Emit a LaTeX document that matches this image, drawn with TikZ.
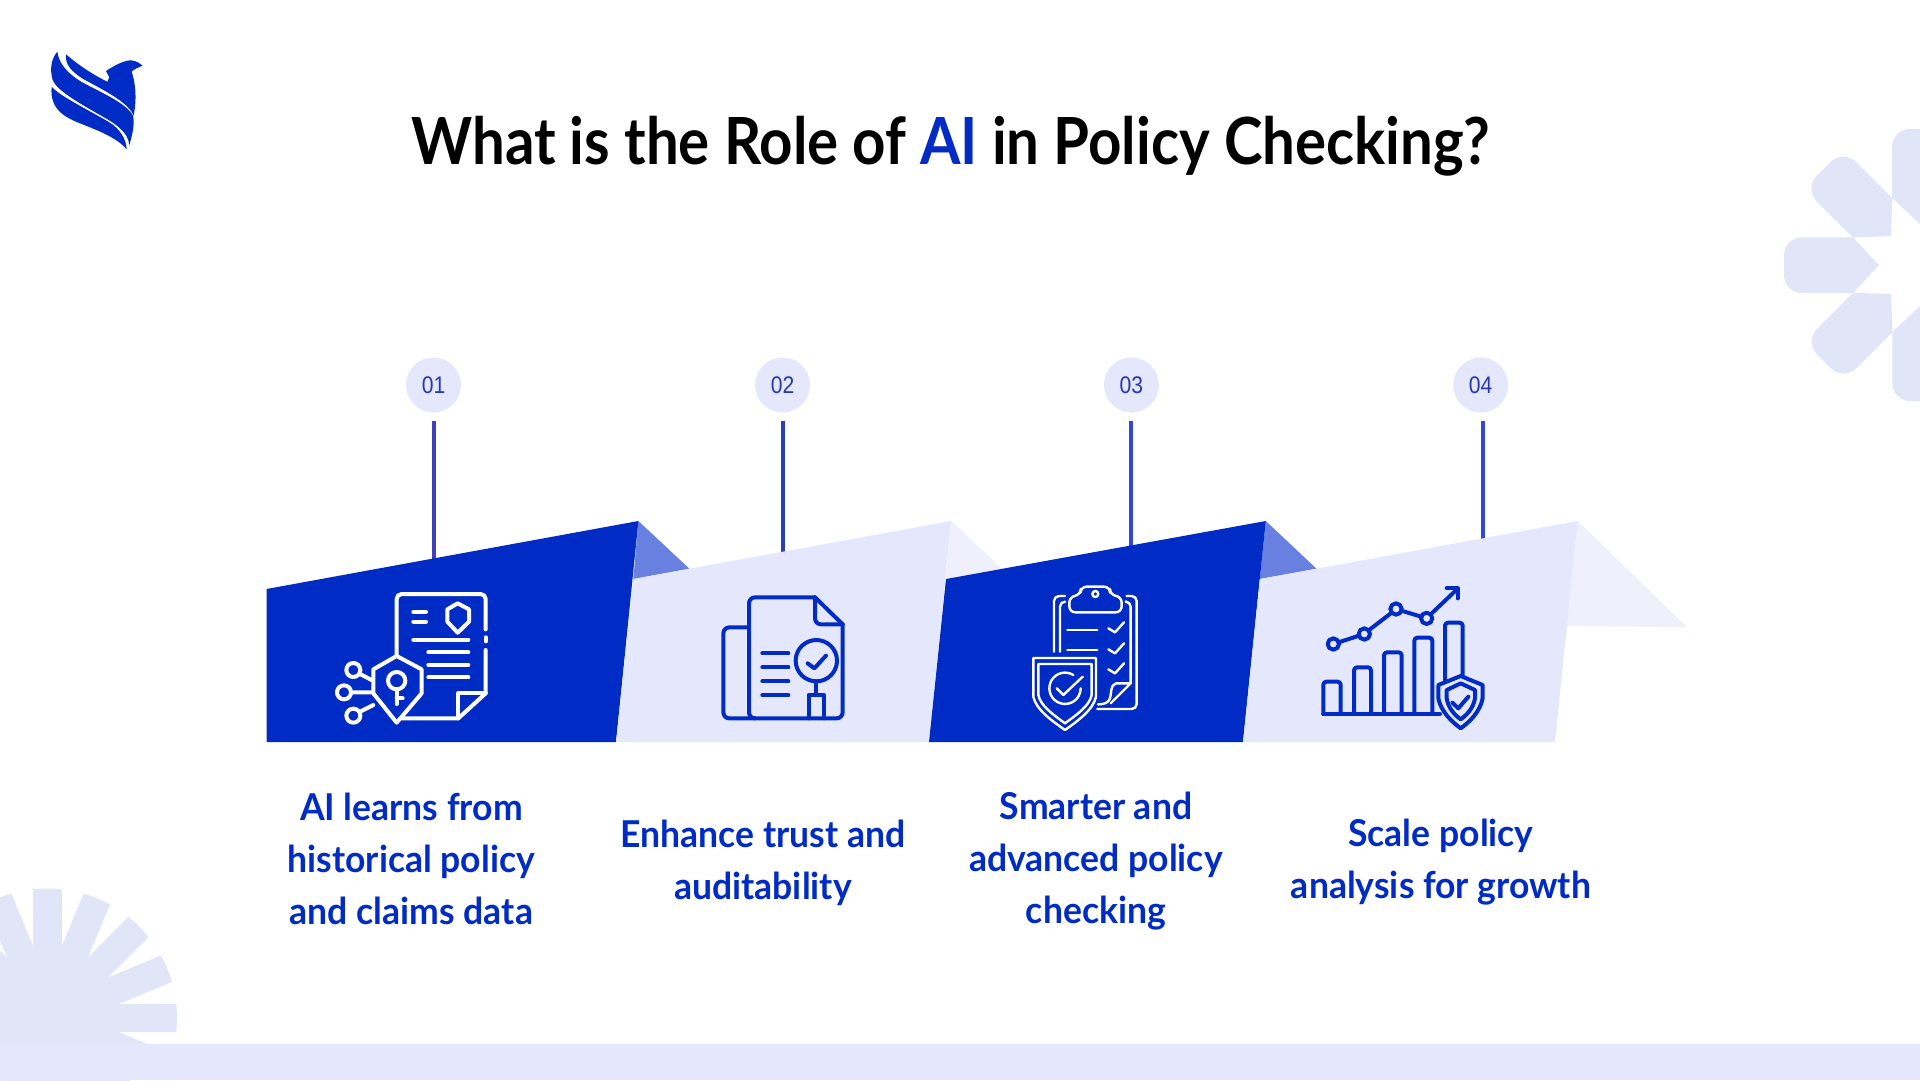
\documentclass[tikz,border=0pt]{standalone}
\usepackage{fontspec}
\setmainfont{Lato}
\newfontfamily\numfont[FakeStretch=0.88]{Liberation Sans}
\newfontfamily\headfont[FakeStretch=0.895]{Lato}
\newfontfamily\labelfont[FakeStretch=0.96]{Lato}
\definecolor{brandblue}{HTML}{002CC5}
\definecolor{lightpanel}{HTML}{E5E8FC}
\definecolor{foldblue}{HTML}{6880E0}
\definecolor{foldlight}{HTML}{EFF0FC}
\definecolor{deco}{HTML}{E1E5F8}
\definecolor{numblue}{HTML}{2538B5}
\definecolor{stemone}{HTML}{4040B8}
\definecolor{stemtwo}{HTML}{2A3FC0}
\definecolor{stemthree}{HTML}{2D48DA}
\tikzset{
  x=1pt,y=-1pt,
  numcircle/.style={circle,fill=lightpanel,minimum size=55pt,inner sep=0pt,outer sep=0pt,text=numblue,font=\numfont\fontsize{24}{28}\selectfont},
  stem/.style={line width=4pt},
  steplabel/.style={align=center,text=brandblue,font=\labelfont\bfseries\fontsize{37}{52}\selectfont},
  iconw/.style={draw=white,line width=4pt,line cap=round,line join=round,fill=none},
  iconb/.style={draw=brandblue,line width=4pt,line cap=round,line join=round,fill=none},
  iconthin/.style={draw=white,line width=2.4pt,line cap=round,line join=round,fill=none},
  petal/.style={fill=deco}
}
\begin{document}
\begin{tikzpicture}
\useasboundingbox (0,0) rectangle (1920,1080);
\clip (0,0) rectangle (1920,1080);
\fill[white] (0,0) rectangle (1920,1080);

% sunburst
\begin{scope}
  \clip (47.5,1018) circle[radius=129.5];
  \foreach \a in {0,22.5,...,337.5}
    \fill[deco,rotate around={\a:(47.5,1018)}] (47.5,1003.75) rectangle (190,1032.25);
\end{scope}
\fill[lightpanel] (0,1044) rectangle (1920,1080);

% flower
\foreach \a in {0,45,...,315}
  \fill[petal,rotate around={\a:(1920,265)}]
    (1879,265) -- (1853,237.3) [rounded corners=18pt] -- (1784,237.3) -- (1784,293) [sharp corners] -- (1853,293) -- cycle;

% logo
\begin{scope}[shift={(0,0)},scale=1/3]
  \fill[brandblue] (155,260) .. controls (175,285) and (250,322) .. (325,365) .. controls (360,385) and (380,420) .. (380,448)
     .. controls (350,412) and (290,390) .. (240,370) .. controls (175,345) and (150,315) .. (155,260) -- cycle;
  \fill[brandblue] (172,155) .. controls (178,195) and (205,220) .. (240,243) .. controls (290,272) and (385,310) .. (400,350)
     .. controls (404,380) and (395,410) .. (388,436) .. controls (385,395) and (345,370) .. (300,345)
     .. controls (230,305) and (170,270) .. (158,240) .. controls (148,205) and (155,175) .. (172,155) -- cycle;
  \fill[brandblue] (198,163) .. controls (235,195) and (280,225) .. (322,245) -- (328,232) -- (318,213)
     .. controls (345,195) and (375,180) .. (395,181) .. controls (410,183) and (420,190) .. (427,197)
     .. controls (415,203) and (402,207) .. (395,215) .. controls (405,245) and (412,290) .. (401,347)
     .. controls (385,305) and (300,265) .. (250,237) .. controls (215,215) and (195,195) .. (198,163) -- cycle;
\end{scope}

% title
\node[font=\headfont\bfseries\fontsize{65}{70}\selectfont,text=black,inner sep=0pt] (title) at (951,146)
  {What is the Role of \textcolor{brandblue}{AI} in Policy Checking?};

% number circles
\node[numcircle] (c1) at (433.5,385) {01};
\node[numcircle] (c2) at (782.6,385) {02};
\node[numcircle] (c3) at (1131.4,385) {03};
\node[numcircle] (c4) at (1480.7,385) {04};
\coordinate (e1) at (433.5,560);
\coordinate (e2) at (782.6,555);
\coordinate (e3) at (1131.4,548);
\coordinate (e4) at (1482.7,540);
\draw[stem,draw=stemone,shorten <=8pt] (c1.south) -- (e1);
\draw[stem,draw=stemtwo,shorten <=8pt] (c2.south) -- (e2);
\draw[stem,draw=stemthree,shorten <=8pt] (c3.south) -- (e3);
\draw[stem,draw=stemthree,shorten <=8pt] (c4.south -| e4) -- (e4);

% folds
\fill[foldblue] (638.4,521) -- (689.4,568.7) -- (633.4,579) -- cycle;
\fill[foldlight] (951,521) -- (1002,568.7) -- (946,579) -- cycle;
\fill[foldblue] (1265.8,521) -- (1316.5,568.7) -- (1259.8,579) -- cycle;
\fill[foldlight] (1577.7,521) -- (1687,627.3) -- (1566.8,626) -- cycle;

% panels
\fill[brandblue] (266.5,589) -- (638.4,521) -- (616,742) -- (266.5,742) -- cycle;
\fill[lightpanel] (633.4,579) -- (689.4,568.7) -- (951,521) -- (929,742) -- (616,742) -- cycle;
\fill[brandblue] (946,579) -- (1265.8,521) -- (1243,742) -- (929,742) -- cycle;
\fill[lightpanel] (1259.8,579) -- (1316.5,568.7) -- (1577.7,521) -- (1555,742) -- (1243,742) -- cycle;

% icon 1
\begin{scope}[shift={(320,570)},scale=1/3]
  \draw[iconw,rounded corners=5pt] (230,255) -- (230,72) -- (497,72) -- (497,178);
  \draw[iconw] (497,202) -- (497,214);
  \draw[iconw] (497,240) -- (497,370) -- (415,445) -- (245,445);
  \draw[iconw] (497,370) -- (415,370) -- (415,445);
  \draw[iconw] (280,125) -- (318,125) (280,155) -- (318,155);
  \draw[iconw] (413,100) -- (447,118) -- (447,155) -- (413,188) -- (382,155) -- (382,118) -- cycle;
  \draw[iconw] (280,209) -- (445,209) (325,247) -- (445,247) (325,285) -- (445,285) (325,322) -- (445,322);
  \draw[iconw] (230,258) -- (305,298) -- (305,370) -- (230,458) -- (160,370) -- (160,298) -- cycle;
  \draw[iconw] (230,332) circle[radius=26];
  \draw[iconw] (230,358) -- (230,402) (230,385) -- (248,385);
  \draw[iconw] (100,300) circle[radius=21] (72,367) circle[radius=21] (100,437) circle[radius=21];
  \draw[iconw] (120,312) -- (155,330) (93,367) -- (158,367) (120,425) -- (160,405);
\end{scope}

% icon 2
\begin{scope}[shift={(700,570)},scale=1/3]
  \draw[iconb,rounded corners=6pt] (345,82) -- (147,82) -- (147,445) -- (165,445);
  \draw[iconb,rounded corners=6pt] (147,172) -- (70,172) -- (70,445) -- (428,445) -- (428,163);
  \draw[iconb] (345,82) -- (428,163);
  \draw[iconb,rounded corners=6pt] (345,82) -- (345,163) -- (428,163);
  \draw[iconb] (187,250) -- (265,250) (187,292) -- (265,292) (187,334) -- (265,334) (187,376) -- (265,376);
  \draw[iconb] (349,272) circle[radius=62];
  \draw[iconb] (323,280) -- (343,295) -- (378,257);
  \draw[iconb] (349,334) -- (349,375);
  \draw[iconb] (326,445) -- (326,375) -- (372,375) -- (372,445);
\end{scope}

% icon 3
\begin{scope}[shift={(1010,570)},scale=1/3]
  \draw[iconthin,rounded corners=5pt] (165,78) -- (132,78) -- (132,245);
  \draw[iconthin,rounded corners=5pt] (165,95) -- (150,95) -- (150,245);
  \draw[iconthin,rounded corners=5pt] (350,78) -- (380,78) -- (380,417) -- (262,417);
  \draw[iconthin,rounded corners=5pt] (350,95) -- (362,95) -- (362,340);
  \draw[iconthin,rounded corners=6pt] (178,127) -- (178,80) -- (212,75) -- (212,50) -- (300,50) -- (300,75) -- (335,80) -- (335,127) -- cycle;
  \draw[iconthin] (256,72) circle[radius=9];
  \draw[iconthin] (172,180) -- (262,180) (172,240) -- (262,240);
  \draw[iconthin] (295,175) -- (315,187) -- (342,157) (295,238) -- (315,250) -- (342,220) (295,298) -- (315,310) -- (342,280);
  \draw[iconthin] (362,340) -- (302,400);
  \draw[iconthin] (362,340) -- (318,340) .. controls (300,345) and (305,370) .. (300,385) .. controls (295,400) and (280,403) .. (264,403);
  \draw[iconthin] (70,264) -- (258,264) -- (258,380) .. controls (250,420) and (200,455) .. (165,480) .. controls (130,455) and (78,420) .. (70,380) -- cycle;
  \draw[iconthin] (85,282) -- (245,282) -- (245,375) .. controls (238,410) and (195,437) .. (165,460) .. controls (135,437) and (92,410) .. (85,375) -- cycle;
  \draw[iconthin] (190,315) arc[start angle=-58,end angle=-360,radius=47];
  \draw[iconthin] (140,355) -- (160,375) -- (218,320);
\end{scope}

% icon 4
\begin{scope}[shift={(1300,570)},scale=1/3]
  \draw[iconb] (70,432) -- (420,432);
  \draw[iconb,rounded corners=3pt] (70,432) -- (70,335) -- (122,335) -- (122,432);
  \draw[iconb,rounded corners=3pt] (162,432) -- (162,292) -- (213,292) -- (213,432);
  \draw[iconb,rounded corners=3pt] (252,432) -- (252,247) -- (305,247) -- (305,432);
  \draw[iconb,rounded corners=3pt] (343,432) -- (343,203) -- (397,203) -- (397,432);
  \draw[iconb,rounded corners=3pt] (435,330) -- (435,158) -- (488,158) -- (488,322);
  \draw[iconb] (100,222) circle[radius=17] (193,192) circle[radius=17] (288,117) circle[radius=17] (380,145) circle[radius=17];
  \draw[iconb] (116,217) -- (177,197) (206,181) -- (275,128) (304,122) -- (364,140) (392,133) -- (472,57);
  \draw[iconb] (440,55) -- (473,55) -- (473,85);
  \fill[lightpanel] (482,318) -- (548,345) -- (548,385) .. controls (540,425) and (510,455) .. (482,475) .. controls (455,455) and (423,425) .. (415,385) -- (415,345) -- cycle;
  \draw[iconb] (482,318) -- (548,345) -- (548,385) .. controls (540,425) and (510,455) .. (482,475) .. controls (455,455) and (423,425) .. (415,385) -- (415,345) -- cycle;
  \draw[iconb] (482,340) -- (525,360) -- (525,385) .. controls (520,415) and (500,435) .. (482,448) .. controls (464,435) and (445,415) .. (440,385) -- (440,360) -- cycle;
  \draw[iconb] (457,398) -- (475,415) -- (505,380);
\end{scope}

% labels
\node[steplabel] (l1) at (411.4,859) {AI learns from\\historical policy\\and claims data};
\node[steplabel] (l2) at (763,862.5) {Enhance trust and\\auditability};
\node[steplabel] (l3) at (1096,861) {Smarter and\\advanced policy\\checking};
\node[steplabel] (l4) at (1441,862) {Scale policy\\analysis for growth};
\end{tikzpicture}
\end{document}
